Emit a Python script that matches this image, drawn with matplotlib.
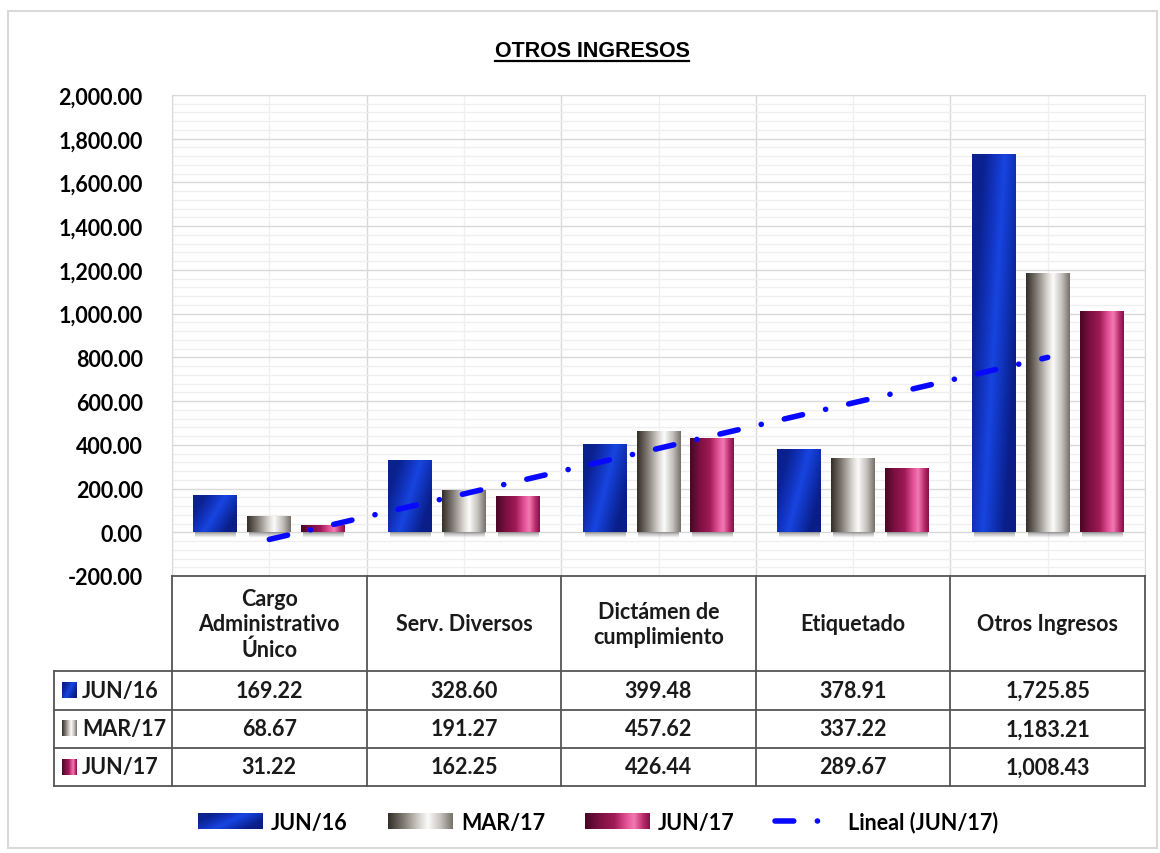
import numpy as np
import matplotlib
matplotlib.use("Agg")
import matplotlib.pyplot as plt
from matplotlib.colors import LinearSegmentedColormap
from matplotlib.patches import Rectangle
from matplotlib.lines import Line2D
from matplotlib.legend_handler import HandlerBase
from matplotlib.image import BboxImage
from matplotlib.transforms import Bbox, TransformedBbox

# data
categories = ["Cargo\nAdministrativo\nÚnico", "Serv. Diversos", "Dictámen de\ncumplimiento",
              "Etiquetado", "Otros Ingresos"]
series_names = ["JUN/16", "MAR/17", "JUN/17"]
jun16 = [169.22, 328.60, 399.48, 378.91, 1725.85]
mar17 = [68.67, 191.27, 457.62, 337.22, 1183.21]
jun17 = [31.22, 162.25, 426.44, 289.67, 1008.43]
trend_name = "Lineal (JUN/17)"
title = "OTROS INGRESOS"
y_min, y_max, y_step = -200, 2000, 200

plt.rcParams["font.family"] = ["Lato", "DejaVu Sans"]
plt.rcParams["font.weight"] = "bold"
plt.rcParams["lines.scale_dashes"] = False
FS = 15.5
W, H = 1160, 854


def gradient(stops, nx=96, ny=64, tilt=0.0):
    cmap = LinearSegmentedColormap.from_list("g", stops)
    xx, yy = np.meshgrid(np.linspace(0, 1, nx), np.linspace(0, 1, ny))
    return cmap(np.clip(xx + tilt * (yy - 0.5), 0, 1))


textures = [
    gradient([(0, "#0a218e"), (0.3, "#1234c0"), (0.5, "#1845e0"), (0.72, "#1034bc"), (1, "#0a1e88")], tilt=0.5),
    gradient([(0, "#332e29"), (0.25, "#857f78"), (0.5, "#dcd9d4"), (0.62, "#fbfbfb"), (0.82, "#c4c0bb"), (1, "#77726c")]),
    gradient([(0, "#4a0625"), (0.22, "#7c1042"), (0.45, "#a01a56"), (0.65, "#e6549a"), (0.76, "#f27ab2"),
              (0.9, "#bb2c6c"), (1, "#86134a")]),
]
series = [jun16, mar17, jun17]


class GradientHandler(HandlerBase):
    def __init__(self, rgb):
        super().__init__()
        self.rgb = rgb

    def create_artists(self, legend, orig_handle, xdescent, ydescent, width, height, fontsize, trans):
        bb = TransformedBbox(Bbox.from_bounds(-xdescent, -ydescent, width, height), trans)
        img = BboxImage(bb, interpolation="bilinear")
        img.set_data(self.rgb)
        return [img]


fig = plt.figure(figsize=(W / 100, H / 100), dpi=100)

# outer frame
fig.add_artist(Rectangle((8 / W, 1 - 849 / H), 1149 / W, 837 / H, transform=fig.transFigure,
                         fill=False, edgecolor="#d9d9d9", lw=1.5))

ax_l, ax_r, ax_t, ax_b = 172, 1145, 96, 577
ax = fig.add_axes([ax_l / W, 1 - ax_b / H, (ax_r - ax_l) / W, (ax_b - ax_t) / H])

n = len(categories)
x = np.arange(1, n + 1)
off, bw = 0.277, 0.226
for i, (vals, tex) in enumerate(zip(series, textures)):
    bars = ax.bar(x + (i - 1) * off, vals, bw, color="none", zorder=3)
    for b in bars:
        x0, y0, w, h = b.get_x(), b.get_y(), b.get_width(), b.get_height()
        ax.imshow(tex, extent=(x0, x0 + w, y0, y0 + h), aspect="auto", zorder=3, interpolation="bilinear")
        sh = np.zeros((16, 2, 4))
        sh[..., :3] = 0.35
        sh[..., 3] = np.linspace(0.55, 0, 16)[:, None]
        ax.imshow(sh, extent=(x0 + 0.01, x0 + w - 0.01, -26, 0), aspect="auto", zorder=2.5,
                  interpolation="bilinear")

# linear trend of JUN/17 (like Excel's "Lineal")
coef = np.polyfit(x, jun17, 1)
tx = np.array([x[0], x[-1]])
trend, = ax.plot(tx, np.polyval(coef, tx), color="#0808ff", lw=4.0, solid_capstyle="round",
                 dash_capstyle="round", zorder=5, label=trend_name)
trend.set_dashes([13.5, 17, 0.1, 17])

ax.set_xlim(0.5, n + 0.5)
ax.set_ylim(y_min, y_max)
ax.set_yticks(np.arange(y_min, y_max + 1, y_step))
ax.set_yticks(np.arange(y_min, y_max + 1, y_step / 5), minor=True)
ax.set_yticklabels([f"{v:,.2f}" for v in np.arange(y_min, y_max + 1, y_step)], fontsize=FS, fontweight="bold")
ax.set_xticks(np.arange(0.5, n + 1, 1))
ax.set_xticks(x, minor=True)
ax.set_xticklabels([])
ax.tick_params(which="both", length=0, pad=21)
ax.grid(which="major", color="#d9d9d9", lw=1.0, zorder=0)
ax.grid(which="minor", color="#efefef", lw=0.9, zorder=0)
ax.set_axisbelow(True)
for s in ["left", "top", "right"]:
    ax.spines[s].set_color("#d9d9d9")
ax.spines["bottom"].set_visible(False)

# data table under the plot
tab = fig.add_axes([ax_l / W, 1 - 787 / H, (ax_r - ax_l) / W, (787 - ax_b) / H])
tab.axis("off")
px = n / (ax_r - ax_l)  # category units per pixel
row_h = 1.0
head_h = 2.5
xl = 0.5 - 118 * px
lc = "#555555"
rows_y = [head_h + k * row_h for k in range(len(series) + 1)]
tab.plot([0.5, n + 0.5], [0, 0], color=lc, lw=1.3, clip_on=False)
for yv in rows_y:
    tab.plot([xl, n + 0.5], [yv, yv], color=lc, lw=1.3, clip_on=False)
for xv in np.arange(0.5, n + 1, 1):
    tab.plot([xv, xv], [0, rows_y[-1]], color=lc, lw=1.3, clip_on=False)
tab.plot([xl, xl], [head_h, rows_y[-1]], color=lc, lw=1.3, clip_on=False)
for i, c in enumerate(categories):
    tab.text(x[i], head_h / 2, c, ha="center", va="center", fontsize=FS, fontweight="bold",
             linespacing=1.25, color="#1a1a1a")
for r, (name, vals, tex) in enumerate(zip(series_names, series, textures)):
    yc = head_h + (r + 0.5) * row_h
    sq = 15 * px
    tab.imshow(tex, extent=(xl + 8 * px, xl + 8 * px + sq, yc + 0.2, yc - 0.2), aspect="auto",
               clip_on=False, interpolation="bilinear")
    tab.text(xl + 28 * px, yc, name, ha="left", va="center", fontsize=FS, fontweight="bold", color="#1a1a1a")
    for i, v in enumerate(vals):
        tab.text(x[i], yc, f"{v:,.2f}", ha="center", va="center", fontsize=FS, fontweight="bold",
                 color="#1a1a1a")
tab.set_xlim(0.5, n + 0.5)
tab.set_ylim(rows_y[-1], 0)

# legend
proxies = [Rectangle((0, 0), 1, 1) for _ in series_names]
hmap = {p: GradientHandler(t) for p, t in zip(proxies, textures)}
fig.legend(proxies + [trend], series_names + [trend_name], handler_map=hmap, loc="center",
           bbox_to_anchor=(598 / W, 1 - 823 / H), ncol=4, frameon=False, prop={"size": FS, "weight": "bold"},
           handlelength=3.0, handleheight=0.7, handletextpad=0.4, columnspacing=1.85)

# title, underlined
t = fig.text(592 / W, 1 - 57 / H, title, ha="center", va="baseline", fontsize=15.5,
             fontweight="bold", family=["Liberation Sans Narrow", "Liberation Sans", "DejaVu Sans"])
fig.canvas.draw()
bb = t.get_window_extent()
fig.add_artist(Line2D([bb.x0 / W, bb.x1 / W], [1 - 62 / H, 1 - 62 / H], transform=fig.transFigure,
                      color="black", lw=1.6))

fig.savefig("out.png", dpi=100)
